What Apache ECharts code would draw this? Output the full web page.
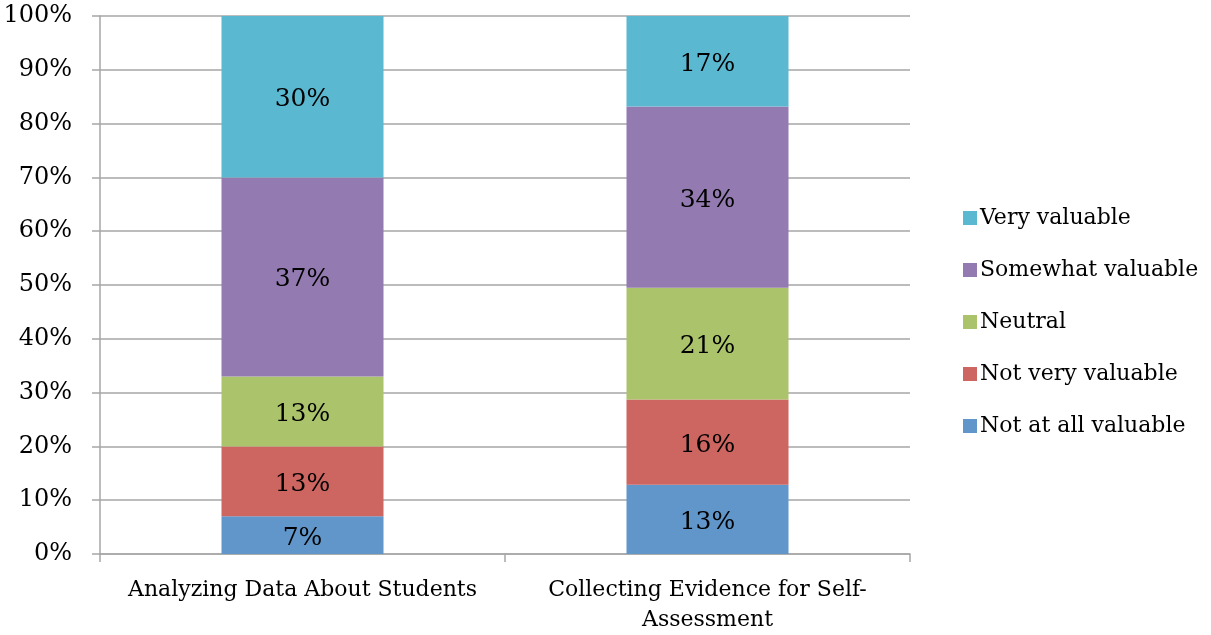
<!DOCTYPE html>
<html><head><meta charset="utf-8">
<script src="https://cdn.jsdelivr.net/npm/echarts@6/dist/echarts.min.js"></script>
<style>html,body{margin:0;padding:0;background:#fff;overflow:hidden}#c{width:1211px;height:635px}</style>
</head><body><div id="c"></div>
<script>
const categories = ['Analyzing Data About Students', 'Collecting Evidence for Self-Assessment'];
const seriesNames = ['Not at all valuable', 'Not very valuable', 'Neutral', 'Somewhat valuable', 'Very valuable'];
const notAtAll = [7, 13];
const notVery = [13, 16];
const neutral = [13, 21];
const somewhat = [37, 34];
const very = [30, 17];
const yTicks = [0, 10, 20, 30, 40, 50, 60, 70, 80, 90, 100];
const colors = ['#6096C9', '#CD6560', '#ABC46C', '#937BB1', '#5BB8D1'];

const raw = [notAtAll, notVery, neutral, somewhat, very];
const totals = categories.map((_, j) => raw.reduce((s, arr) => s + arr[j], 0));
const FONT = 'DejaVu Serif';

const series = raw.map((arr, i) => ({
  name: seriesNames[i],
  type: 'bar',
  stack: 'total',
  barWidth: '40%',
  itemStyle: { color: colors[i] },
  data: arr.map((v, j) => v / totals[j] * 100),
  label: {
    show: true, position: 'inside', color: '#000', fontFamily: FONT, fontSize: 25,
    offset: [0, 3],
    formatter: p => raw[i][p.dataIndex] + '%'
  }
}));

const chart = echarts.init(document.getElementById('c'));
chart.setOption({
  animation: false,
  backgroundColor: '#fff',
  grid: { left: 100, width: 810, top: 16, height: 539.5, containLabel: false },
  legend: {
    orient: 'vertical', left: 958, top: 202,
    data: seriesNames.slice().reverse(),
    itemWidth: 14, itemHeight: 14, itemGap: 30, icon: 'rect',
    textStyle: { fontFamily: FONT, fontSize: 22, color: '#000', padding: [0, 0, 0, -2] }
  },
  xAxis: {
    type: 'category', data: categories,
    axisLine: { show: true, lineStyle: { color: '#A6A6A6', width: 1.5 } },
    axisTick: { show: true, length: 8, alignWithLabel: false, lineStyle: { color: '#A6A6A6', width: 1.5 } },
    axisLabel: {
      fontFamily: FONT, fontSize: 22, color: '#000', margin: 21, lineHeight: 30,
      interval: 0,
      formatter: v => v.replace('Self-', 'Self-\n')
    }
  },
  yAxis: {
    type: 'value', min: 0, max: 100, interval: 10,
    axisLine: { show: true, lineStyle: { color: '#A6A6A6', width: 1.5 } },
    axisTick: { show: true, length: 8, lineStyle: { color: '#A6A6A6', width: 1.5 } },
    splitLine: { show: true, lineStyle: { color: '#A6A6A6', width: 1.5 } },
    axisLabel: {
      fontFamily: FONT, fontSize: 24, color: '#000', margin: 28, padding: [7, 0, 0, 0],
      formatter: v => yTicks.includes(v) ? v + '%' : ''
    }
  },
  series
});
</script></body></html>
